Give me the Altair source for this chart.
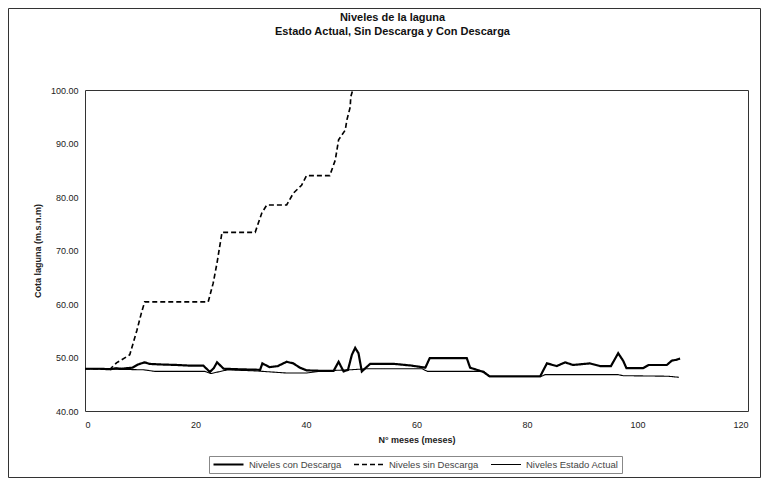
import altair as alt
import pandas as pd

series_names = ["Niveles con Descarga", "Niveles sin Descarga", "Niveles Estado Actual"]

con_x = [0, 2.6, 4.6, 5.6, 6.6, 8.6, 9.6, 10.8, 11.7, 13.7, 16.7, 18.7, 21.4, 22.6, 23.3, 23.9,
         25.1, 27.8, 31.7, 32.1, 33.4, 34.9, 36.5, 37.7, 38.9, 40.1, 42.9, 45.0, 45.9, 46.8,
         47.6, 48.3, 48.9, 49.5, 50.1, 51.6, 56.0, 59.0, 61.6, 62.4, 69.1, 69.7, 72.1, 73.2,
         82.4, 83.6, 85.4, 86.9, 88.3, 91.4, 93.2, 95.2, 96.5, 97.4, 98.0, 101.0, 102.0,
         105.3, 106.2, 107.1, 107.7]
con_y = [47.9, 47.9, 47.8, 48.0, 47.9, 48.1, 48.7, 49.1, 48.8, 48.7, 48.6, 48.5, 48.5, 47.3, 48.0, 49.1,
         47.9, 47.8, 47.7, 48.9, 48.2, 48.4, 49.2, 48.9, 48.1, 47.6, 47.5, 47.5, 49.2, 47.4,
         47.7, 50.5, 51.8, 50.8, 47.4, 48.8, 48.8, 48.5, 48.1, 49.9, 49.9, 48.1, 47.3, 46.5,
         46.5, 48.9, 48.4, 49.1, 48.6, 48.9, 48.4, 48.4, 50.8, 49.4, 48.0, 48.0, 48.6,
         48.6, 49.4, 49.6, 49.8]

sin_x = [0, 4.6, 5.7, 8.1, 9.4, 10.2, 10.8, 22.3, 23.2, 23.9, 24.8, 30.8, 32.0, 32.9, 36.5,
         37.7, 39.2, 40.1, 44.3, 45.3, 45.9, 47.1, 47.4, 48.0, 48.1, 48.6]
sin_y = [47.9, 47.9, 49.0, 50.5, 55.1, 58.3, 60.4, 60.4, 63.9, 67.7, 73.4, 73.4, 77.0, 78.5, 78.5,
         80.7, 82.2, 84.0, 84.0, 86.9, 90.7, 92.5, 94.4, 96.8, 98.7, 100.5]

act_x = [0, 5.6, 10.6, 12.7, 21.7, 22.8, 25.8, 30.8, 36.5, 40.1, 43.0, 48.0, 51.0, 61.0, 62.0,
         72.2, 73.2, 82.4, 83.3, 96.5, 97.4, 105.5, 107.5]
act_y = [47.9, 47.8, 47.7, 47.4, 47.4, 47.0, 47.7, 47.5, 47.1, 47.1, 47.5, 47.7, 47.9, 47.9, 47.4,
         47.4, 46.4, 46.4, 46.8, 46.8, 46.6, 46.5, 46.3]

x_ticks = [0, 20, 40, 60, 80, 100, 120]
y_ticks = [40, 50, 60, 70, 80, 90, 100]

rows = []
for name, xs, ys in [(series_names[0], con_x, con_y),
                     (series_names[1], sin_x, sin_y),
                     (series_names[2], act_x, act_y)]:
    for i, (xv, yv) in enumerate(zip(xs, ys)):
        rows.append({"serie": name, "mes": xv, "nivel": yv, "orden": i})
df = pd.DataFrame(rows)

FONT = "Liberation Sans"

leg = alt.Legend(title=None, orient="none", legendX=124, legendY=366, direction="horizontal",
                 symbolType="stroke", symbolSize=900, labelFontSize=9.5, labelFont=FONT,
                 labelColor="#444", strokeColor="#888", padding=3, columnPadding=11,
                 labelOffset=4, symbolStrokeColor="black", clipHeight=11)

lines = alt.Chart(df).mark_line(clip=True).encode(
    x=alt.X("mes:Q", scale=alt.Scale(domain=[0, 120], nice=False),
            axis=alt.Axis(values=x_ticks, title="N° meses (meses)", ticks=False, grid=False,
                          labelPadding=9, titlePadding=6, domain=False)),
    y=alt.Y("nivel:Q", scale=alt.Scale(domain=[40, 100], nice=False),
            axis=alt.Axis(values=y_ticks, format=".2f", title="Cota laguna (m.s.n.m)", ticks=False,
                          grid=False, labelPadding=7, titlePadding=8, domain=False)),
    order="orden:Q",
    color=alt.Color("serie:N", scale=alt.Scale(domain=series_names, range=["black", "black", "black"]),
                    legend=leg),
    strokeDash=alt.StrokeDash("serie:N", scale=alt.Scale(domain=series_names,
                                                         range=[[1, 0], [5, 3], [1, 0]]), legend=leg),
    strokeWidth=alt.StrokeWidth("serie:N", scale=alt.Scale(domain=series_names, range=[2.2, 1.1, 0.8]),
                                legend=leg),
)

frame = alt.Chart(pd.DataFrame({"a": [0]})).mark_rect(fill=None, stroke="#333", strokeWidth=1).encode(
    x=alt.value(-76.5), x2=alt.value(675.5), y=alt.value(-81.5), y2=alt.value(387.5)
)

chart = alt.layer(frame, lines).properties(
    width=663, height=321,
    autosize=alt.AutoSizeParams(type="none"),
    padding={"left": 77, "top": 82, "right": 13, "bottom": 67},
    title=alt.Title(["Niveles de la laguna", "Estado Actual, Sin Descarga y Con Descarga"],
                    fontSize=11, fontWeight="bold", font=FONT, dx=-24, offset=-29, lineHeight=14,
                    anchor="middle", color="#111"),
).configure_view(stroke="#333", strokeWidth=1).configure_axis(
    labelFont=FONT, labelFontSize=9, labelColor="#222", titleFont=FONT, titleFontSize=9,
    titleFontWeight="bold", titleColor="#222"
)

chart.save("out.html", embed_options={"renderer": "svg", "actions": False})
